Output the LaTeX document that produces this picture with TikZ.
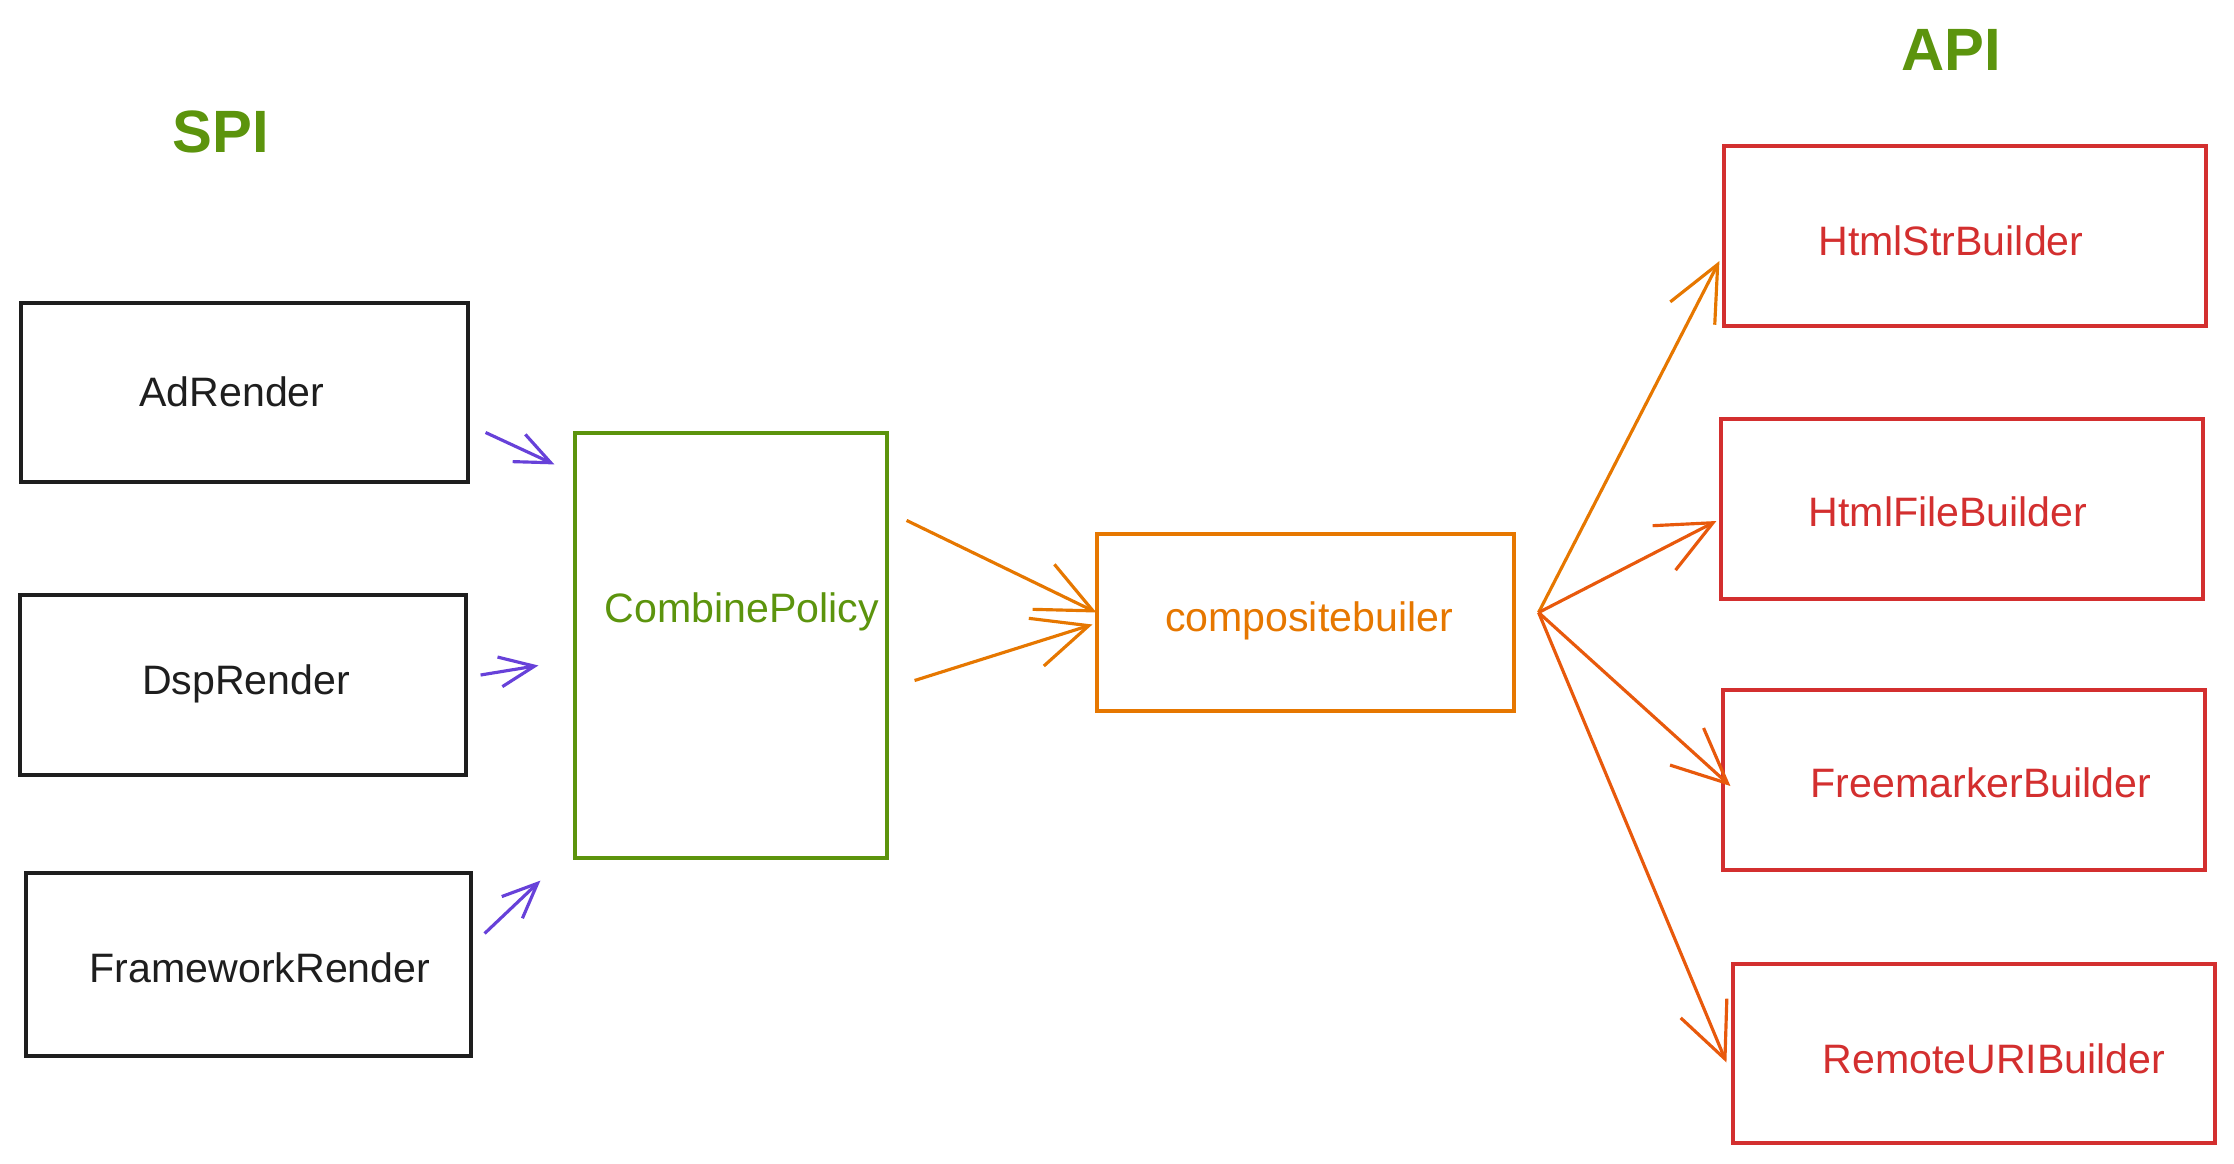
\documentclass[tikz,border=0pt]{standalone}
\usepackage{fontspec}
\setmainfont{Liberation Sans}
\usetikzlibrary{arrows.meta}
\definecolor{renderblack}{HTML}{1E1E1E}
\definecolor{arrowviolet}{HTML}{6741D9}
\definecolor{policygreen}{HTML}{5C940D}
\definecolor{compositeorange}{HTML}{E67700}
\definecolor{forkorange}{HTML}{E8590C}
\definecolor{builderred}{HTML}{D32F2F}
\tikzset{
  box/.style={draw=#1, line width=0.9pt, inner sep=0pt},
  boxtext/.style={text=#1, inner sep=0pt, font=\fontsize{11.7}{14}\selectfont},
  title/.style={text=policygreen, font=\fontsize{17}{20}\selectfont\bfseries},
  spiarrow/.style={draw=arrowviolet, line width=0.9pt,
    -{Straight Barb[length=3.5mm,width=3mm]}},
  apiarrow/.style={draw=#1, line width=0.9pt,
    -{Straight Barb[length=5.5mm,width=5mm]}}
}
\begin{document}
\begin{tikzpicture}[x=1cm,y=-1cm]
  \useasboundingbox (0,0) rectangle (22.34,11.63);
  \node[title] (spi) at (2.21,1.32) {SPI};
  \node[title] (api) at (19.51,0.50) {API};
  % renders
  \node[box=renderblack, minimum width=4.47cm, minimum height=1.79cm] (adrender) at (2.445,3.925) {};
  \node[boxtext=renderblack] (adtext) at (2.32,3.92) {AdRender};
  \node[box=renderblack, minimum width=4.46cm, minimum height=1.80cm] (dsprender) at (2.43,6.85) {};
  \node[boxtext=renderblack] (dsptext) at (2.46,6.84) {DspRender};
  \node[box=renderblack, minimum width=4.45cm, minimum height=1.83cm] (frameworkrender) at (2.485,9.645) {};
  \node[boxtext=renderblack] (frameworktext) at (2.60,9.68) {FrameworkRender};
  \node[box=policygreen, minimum width=3.12cm, minimum height=4.25cm] (combinepolicy) at (7.31,6.455) {};
  \node[boxtext=policygreen] (combinetext) at (7.42,6.12) {CombinePolicy};
  \node[box=compositeorange, minimum width=4.17cm, minimum height=1.77cm] (composite) at (13.055,6.225) {};
  \node[boxtext=compositeorange] (compositetext) at (13.09,6.21) {compositebuiler};
  % builders
  \node[box=builderred, minimum width=4.82cm, minimum height=1.80cm] (htmlstr) at (19.65,2.36) {};
  \node[boxtext=builderred] (htmlstrtext) at (19.51,2.41) {HtmlStrBuilder};
  \node[box=builderred, minimum width=4.82cm, minimum height=1.80cm] (htmlfile) at (19.62,5.09) {};
  \node[boxtext=builderred] (htmlfiletext) at (19.48,5.12) {HtmlFileBuilder};
  \node[box=builderred, minimum width=4.82cm, minimum height=1.80cm] (freemarker) at (19.64,7.80) {};
  \node[boxtext=builderred] (freemarkertext) at (19.81,7.83) {FreemarkerBuilder};
  \node[box=builderred, minimum width=4.82cm, minimum height=1.79cm] (remoteuri) at (19.74,10.535) {};
  \node[boxtext=builderred] (remoteuritext) at (19.94,10.59) {RemoteURIBuilder};
  % spi arrows
  \draw[spiarrow] ([shift={(0.16,0.40)}]adrender.east) -- ([shift={(-0.19,0.33)}]combinepolicy.north west);
  \draw[spiarrow] ([shift={(0.13,-0.10)}]dsprender.east) -- ([shift={(-0.35,0.20)}]combinepolicy.west);
  \draw[spiarrow] ([shift={(0.12,-0.31)}]frameworkrender.east) -- ([shift={(-0.33,0.21)}]combinepolicy.south west);
  \draw[apiarrow=compositeorange] ([shift={(0.18,0.89)}]combinepolicy.north east) -- ([shift={(0.01,-0.10)}]composite.west);
  \draw[apiarrow=compositeorange] ([shift={(0.26,0.35)}]combinepolicy.east) -- ([shift={(-0.03,0.02)}]composite.west);
  % api arrows
  \coordinate (fork) at ([shift={(0.23,-0.10)}]composite.east);
  \draw[apiarrow=compositeorange] (fork) -- ([shift={(-0.03,0.25)}]htmlstr.west);
  \foreach \target/\dx/\dy in {htmlfile/-0.03/0.12, freemarker/0.09/0.06, remoteuri/-0.05/0.09}
    \draw[apiarrow=forkorange] (fork) -- ([shift={(\dx,\dy)}]\target.west);
\end{tikzpicture}
\end{document}
